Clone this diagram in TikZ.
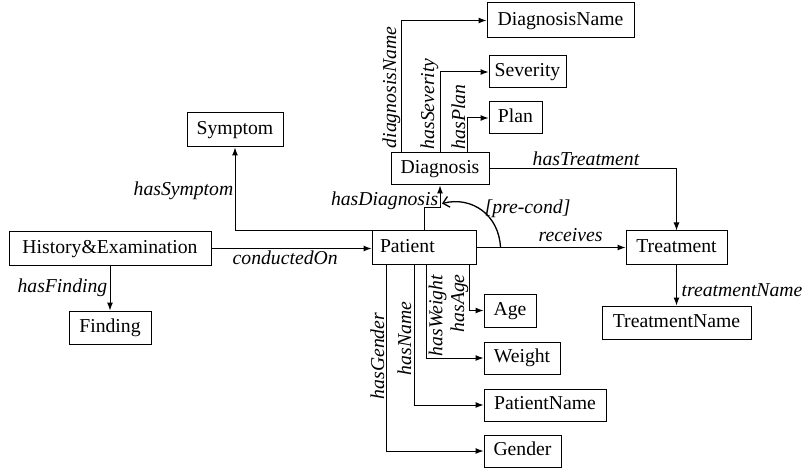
\documentclass[tikz,border=0pt]{standalone}
\usepackage{fontspec}
\setmainfont{Liberation Serif}
\usetikzlibrary{arrows.meta,calc}
\begin{document}
\begin{tikzpicture}[x=1pt,y=-1pt,
  box/.style={draw,line width=1pt,inner sep=0pt,text height=13.5pt,text depth=4pt,font=\fontsize{19.7}{23}\selectfont},
  lbl/.style={font=\fontsize{19.7}{23}\selectfont\itshape,inner sep=0.5pt},
  conn/.style={line width=1pt,-{Latex[length=8pt,width=6pt]}},
  precond/.style={line width=1.3pt,-{Straight Barb[length=6pt,width=11pt,line width=1.3pt]}}]
\useasboundingbox[fill=white] (0,0) rectangle (804,468);
% boxes
\node[box,minimum width=147pt,minimum height=35pt] (DiagnosisName) at (560.5,20.5) {DiagnosisName};
\node[box,minimum width=77pt,minimum height=32pt] (Severity) at (527.5,72) {Severity};
\node[box,minimum width=53pt,minimum height=32pt] (Plan) at (515.5,118) {Plan};
\node[box,minimum width=98pt,minimum height=32pt] (Diagnosis) at (440,169) {Diagnosis};
\node[box,minimum width=104pt,minimum height=33pt,text width=88pt,align=left,inner xsep=8pt] (Patient) at (424,247.5) {Patient};
\node[box,minimum width=101pt,minimum height=33pt] (Treatment) at (676.5,247.5) {Treatment};
\node[box,minimum width=149pt,minimum height=33pt] (TreatmentName) at (676.5,322.5) {TreatmentName};
\node[box,minimum width=52pt,minimum height=33pt] (Age) at (510,310.5) {Age};
\node[box,minimum width=76pt,minimum height=32pt] (Weight) at (522,358) {Weight};
\node[box,minimum width=122pt,minimum height=32pt] (PatientName) at (545,405) {PatientName};
\node[box,minimum width=77pt,minimum height=32pt] (Gender) at (522.5,451) {Gender};
\node[box,minimum width=96pt,minimum height=34pt] (Symptom) at (235,130) {Symptom};
\node[box,minimum width=202pt,minimum height=33pt] (HE) at (110,248.5) {History\&Examination};
\node[box,minimum width=82pt,minimum height=33pt] (Finding) at (110,327.5) {Finding};
% connectors
\draw[conn] ([xshift=11pt]Diagnosis.north west) |- (DiagnosisName.west);
\draw[conn] (Diagnosis.north) |- (Severity.west);
\draw[conn] ([xshift=27pt]Diagnosis.north) |- (Plan.west);
\draw[conn] (Diagnosis.east) -| (Treatment.north);
\draw[conn] (Patient.north) -- ++(0,-23) -| (Diagnosis.south);
\draw[conn] (Patient.east) -- (Treatment.west);
\coordinate (pcs) at ([xshift=24pt]Patient.east);
\coordinate (pce) at ([xshift=2pt,yshift=-18pt]Diagnosis.south);
\draw[precond] (pcs) .. controls (499,215) and (472,196) .. (pce);
\draw[conn] (Treatment.south) -- (TreatmentName.north);
\draw[conn] (HE.east) -- (HE.east -| Patient.west);
\draw[conn] (Patient.north west) -| (Symptom.south);
\draw[conn] (HE.south) -- (Finding.north);
\draw[conn] ([xshift=15pt]Patient.south west) |- (Gender.west);
\draw[conn] ([xshift=43pt]Patient.south west) |- (PatientName.west);
\draw[conn] ([xshift=55pt]Patient.south west) |- (Weight.west);
\draw[conn] ([xshift=98pt]Patient.south west) |- (Age.west);
% labels
\node[lbl,rotate=90,anchor=south west] (ldn) at (401,149) {diagnosisName};
\node[lbl,rotate=90,anchor=south west] (lsev) at (439,150) {hasSeverity};
\node[lbl,rotate=90,anchor=south west] (lplan) at (466,150) {hasPlan};
\node[lbl,anchor=south] (ltreat) at (586,166) {hasTreatment};
\node[lbl,anchor=base east] (ldiag) at (439,206) {hasDiagnosis};
\node[lbl,anchor=base west] (lpre) at (484,214) {[pre-cond]};
\node[lbl,anchor=base west] (lrec) at (538,242) {receives};
\node[lbl,anchor=base west] (ltn) at (681,296) {treatmentName};
\node[lbl,anchor=base west] (lcond) at (232,264) {conductedOn};
\node[lbl,anchor=base east] (lsym) at (234,196) {hasSymptom};
\node[lbl,anchor=base east] (lfind) at (108,292) {hasFinding};
\node[lbl,rotate=90,anchor=base west] (lgen) at (384,400) {hasGender};
\node[lbl,rotate=90,anchor=base west] (lname) at (411,376) {hasName};
\node[lbl,rotate=90,anchor=north west] (lw) at (428,357) {hasWeight};
\node[lbl,rotate=90,anchor=south west] (lage) at (469,333) {hasAge};
\end{tikzpicture}
\end{document}
